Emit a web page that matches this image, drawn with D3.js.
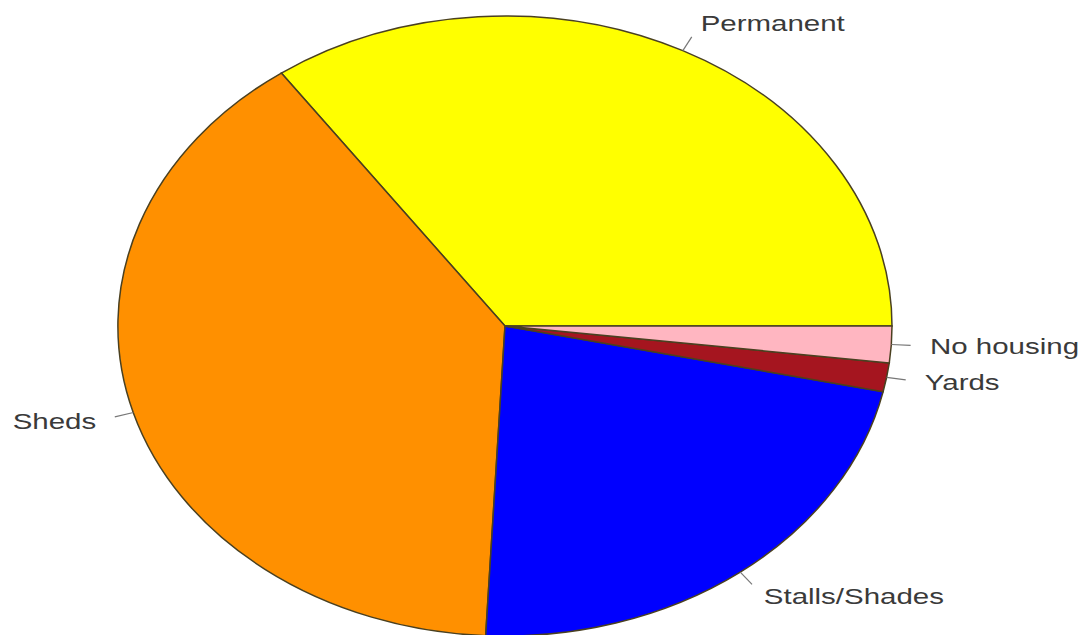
<!DOCTYPE html>
<html lang="en">
<head>
  <meta charset="UTF-8" />
  <title>Housing types</title>
  <style>
    html, body { margin: 0; background: #fff; }
    .lbl { font-family: "Liberation Sans", Arial, sans-serif; font-size: 22px; fill: #3a3a3a; }
  </style>
</head>
<body>
  <svg id="chart" width="1085" height="635"></svg>
  <script src="https://cdn.jsdelivr.net/npm/d3@7/dist/d3.min.js"></script>
  <script>
    // slice data, in drawing order (counterclockwise from 3 o'clock)
    const categories = ["Permanent", "Sheds", "Stalls/Shades", "Yards", "No housing"];
    const shares = [34.8, 39.4, 22.4, 1.5, 1.9];
    const colors = ["#ffff00", "#ff9000", "#0000ff", "#a5151f", "#ffb6c1"];

    const svg = d3.select("#chart");
    const cx = 505, cy = 326, rx = 387, ry = 310;

    const data = categories.map((c, i) => ({ name: c, value: shares[i], color: colors[i] }));

    // go counterclockwise starting east, like R's pie()
    const pie = d3.pie()
      .sort(null)
      .value(d => d.value)
      .startAngle(Math.PI / 2)
      .endAngle(Math.PI / 2 - 2 * Math.PI);

    const arcs = pie(data);
    const arc = d3.arc().innerRadius(0).outerRadius(1);

    // unit pie stretched into an ellipse
    const g = svg.append("g")
      .attr("transform", `translate(${cx},${cy}) scale(${rx},${ry})`);

    g.selectAll("path")
      .data(arcs)
      .enter().append("path")
        .attr("d", arc)
        .attr("fill", d => d.data.color)
        .attr("stroke", "#4a4020")
        .attr("stroke-width", 1.5)
        .attr("vector-effect", "non-scaling-stroke");

    // labels + little ticks
    const lab = svg.append("g");
    arcs.forEach(a => {
      const m = (a.startAngle + a.endAngle) / 2;
      const ux = Math.sin(m), uy = -Math.cos(m);

      lab.append("line")
        .attr("x1", cx + rx * ux).attr("y1", cy + ry * uy)
        .attr("x2", cx + 1.05 * rx * ux).attr("y2", cy + 1.05 * ry * uy)
        .attr("stroke", "#777")
        .attr("stroke-width", 1.2);

      lab.append("text")
        .attr("class", "lbl")
        .attr("transform", `translate(${cx + 1.1 * rx * ux},${cy + 1.1 * ry * uy}) scale(1.34,1)`)
        .attr("text-anchor", ux > 0 ? "start" : "end")
        .attr("dominant-baseline", "central")
        .text(a.data.name);
    });
  </script>
</body>
</html>
